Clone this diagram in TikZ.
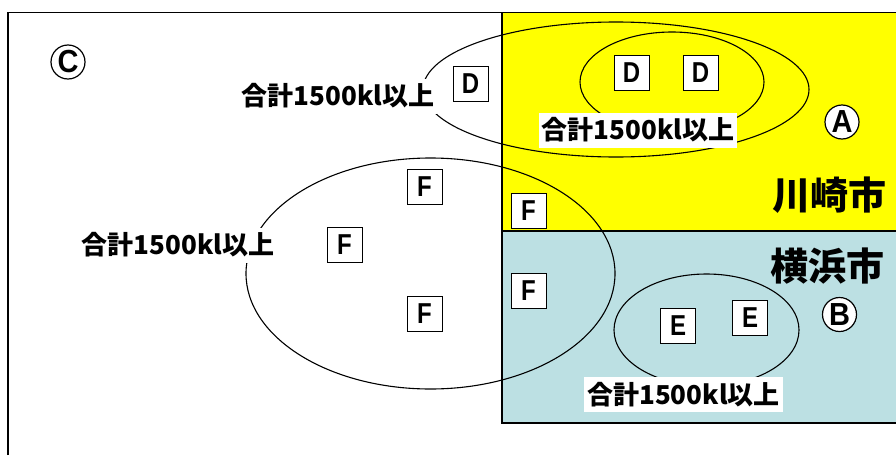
\documentclass[tikz,border=0pt]{standalone}
\usepackage{fontspec}
\setmainfont{Liberation Sans}
\newfontfamily\cjk{Noto Sans CJK JP}
\definecolor{kyellow}{HTML}{FFFF00}
\definecolor{yblue}{HTML}{BCE0E3}
\begin{document}
\begin{tikzpicture}[x=1pt,y=-1pt,
  lbl/.style={fill=white, inner xsep=3pt, inner ysep=0pt, minimum height=35pt, font=\cjk\bfseries\fontsize{26}{26}\selectfont},
  letbox/.style={draw=black, line width=1pt, fill=white, minimum width=35pt, minimum height=35pt, inner sep=0pt, font=\bfseries\fontsize{24}{24}\selectfont},
  ell/.style={draw=black, line width=1.1pt},
  circ/.style={circle, draw=black, line width=1.2pt, fill=white, minimum size=34pt, inner sep=0pt, font=\bfseries\fontsize{29}{29}\selectfont},
  city/.style={font=\cjk\bfseries\fontsize{38}{38}\selectfont, inner sep=0pt}
]
\useasboundingbox (0,0) rectangle (896,455);
% regions
\fill[kyellow] (502,12.5) rectangle (896,231);
\fill[yblue] (502,231) rectangle (896,423);
\draw[line width=1.3pt] (8,455) -- (8,12.5) -- (896,12.5);
\draw[line width=1.1pt] (502,12.5) -- (502,423) -- (896,423);
\draw[line width=1.1pt] (502,231) -- (896,231);
% ellipses
\draw[ell] (616,89.5) ellipse [x radius=193, y radius=67.5];
\draw[ell] (672,82) ellipse [x radius=92, y radius=50];
\draw[ell] (430.5,273.5) ellipse [x radius=184.5, y radius=115.5];
\draw[ell] (706.5,330) ellipse [x radius=92.5, y radius=56];
% labels
\node[lbl] (ld1) at (338,96) {合計1500kl以上};
\node[lbl] (ld2) at (638,130) {合計1500kl以上};
\node[lbl] (lf) at (178,245) {合計1500kl以上};
\node[lbl] (le) at (683.5,394.5) {合計1500kl以上};
% letter boxes
\node[letbox] (d1) at (470.5,84) {\scalebox{1}[1.2]{D}};
\node[letbox] (d2) at (631.5,72.5) {\scalebox{1}[1.2]{D}};
\node[letbox] (d3) at (700.5,72.5) {\scalebox{1}[1.2]{D}};
\node[letbox] (f1) at (424.5,187) {\scalebox{1}[1.2]{F}};
\node[letbox] (f2) at (344.5,244.5) {\scalebox{1}[1.2]{F}};
\node[letbox] (f3) at (424.5,314) {\scalebox{1}[1.2]{F}};
\node[letbox] (f4) at (528.5,210.5) {\scalebox{1}[1.2]{F}};
\node[letbox] (f5) at (528.5,290.5) {\scalebox{1}[1.2]{F}};
\node[letbox] (e1) at (678,325.5) {\scalebox{1}[1.2]{E}};
\node[letbox] (e2) at (750,317.5) {\scalebox{1}[1.2]{E}};
% circled letters
\node[circ] (cc) at (68,62) {\scalebox{1}[1.1]{C}};
\node[circ] (ca) at (842,122) {\scalebox{1}[1.1]{A}};
\node[circ] (cb) at (839.5,314.5) {\scalebox{1}[1.1]{B}};
% city names
\node[city] (kawasaki) at (829.5,195) {川崎市};
\node[city] (yokohama) at (827.5,266) {横浜市};
\end{tikzpicture}
\end{document}
